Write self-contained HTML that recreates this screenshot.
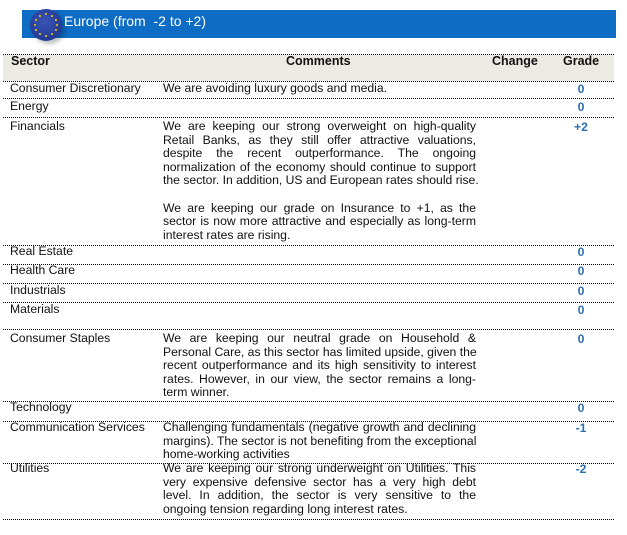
<!DOCTYPE html>
<html><head><meta charset="utf-8"><style>
body{margin:0;width:627px;height:535px;background:#fff;position:relative;overflow:hidden;font-family:"Liberation Sans",Arial,sans-serif;font-size:12.2px;color:#111}
.banner{position:absolute;left:22px;top:10px;width:594px;height:28px;background:#0d6cc4}
.flag{position:absolute;left:30px;top:9px;width:32px;height:32px;border-radius:50%;background:radial-gradient(circle at 45% 40%,#3a55b5,#1c2f86);box-shadow:3px 3px 4px rgba(0,0,0,.25)}
.star{position:absolute;width:2px;height:2px;background:#f5d000;border-radius:50%}
.title{position:absolute;left:64px;top:13px;color:#fff;font-size:14px;}
.hdr{position:absolute;left:3px;top:55px;width:611px;height:26px;background:#ecebe3}
.sep{position:absolute;left:3px;width:611px;border-top:1px dotted #000}
.t{position:absolute;white-space:nowrap;line-height:13.6px}
.h{font-weight:bold;font-size:12.5px}
.g{position:absolute;width:30px;text-align:center;left:566px;color:#2e6fb0;font-weight:bold}
.c{position:absolute;left:163px;width:313px;line-height:13.6px}
.c div{text-align:justify;text-align-last:justify;white-space:nowrap}
.c div.l{text-align-last:left}
</style></head><body>
<div class="banner"></div><div class="flag">
<div class="star" style="left:15px;top:4px"></div><div class="star" style="left:21px;top:6px"></div><div class="star" style="left:25px;top:10px"></div><div class="star" style="left:26px;top:15px"></div><div class="star" style="left:25px;top:20px"></div><div class="star" style="left:21px;top:24px"></div><div class="star" style="left:15px;top:26px"></div><div class="star" style="left:9px;top:24px"></div><div class="star" style="left:5px;top:20px"></div><div class="star" style="left:4px;top:15px"></div><div class="star" style="left:5px;top:10px"></div><div class="star" style="left:9px;top:6px"></div>
</div>
<div class="title">Europe (from&nbsp; -2 to +2)</div>
<div class="sep" style="top:54px"></div>
<div class="hdr"></div>
<div class="t h" style="left:11px;top:55px">Sector</div>
<div class="t h" style="left:286px;top:55px">Comments</div>
<div class="t h" style="left:492px;top:55px">Change</div>
<div class="t h" style="left:563px;top:55px">Grade</div>
<div class="sep" style="top:81px"></div>
<div class="sep" style="top:98px"></div>
<div class="sep" style="top:117px"></div>
<div class="sep" style="top:245px"></div>
<div class="sep" style="top:264px"></div>
<div class="sep" style="top:283px"></div>
<div class="sep" style="top:302px"></div>
<div class="sep" style="top:329px"></div>
<div class="sep" style="top:401px"></div>
<div class="sep" style="top:421px"></div>
<div class="sep" style="top:463px"></div>
<div class="sep" style="top:519px"></div>

<div class="t" style="left:10px;top:82px">Consumer Discretionary</div>
<div class="t" style="left:163px;top:82px">We are avoiding luxury goods and media.</div>
<div class="g" style="top:82px">0</div>
<div class="t" style="left:10px;top:100px">Energy</div>
<div class="g" style="top:100px">0</div>
<div class="t" style="left:10px;top:120px">Financials</div>
<div class="g" style="top:120px">+2</div>
<div class="c" style="top:120px">
<div>We are keeping our strong overweight on high-quality</div>
<div>Retail Banks, as they still offer attractive valuations,</div>
<div>despite the recent outperformance. The ongoing</div>
<div>normalization of the economy should continue to support</div>
<div class="l">the sector. In addition, US and European rates should rise.</div>
<div>&nbsp;</div>
<div>We are keeping our grade on Insurance to +1, as the</div>
<div>sector is now more attractive and especially as long-term</div>
<div class="l">interest rates are rising.</div>
</div>
<div class="t" style="left:10px;top:245px">Real Estate</div><div class="g" style="top:245px">0</div>
<div class="t" style="left:10px;top:264px">Health Care</div><div class="g" style="top:264px">0</div>
<div class="t" style="left:10px;top:284px">Industrials</div><div class="g" style="top:284px">0</div>
<div class="t" style="left:10px;top:303px">Materials</div><div class="g" style="top:303px">0</div>
<div class="t" style="left:10px;top:332px">Consumer Staples</div><div class="g" style="top:332px">0</div>
<div class="c" style="top:332px">
<div>We are keeping our neutral grade on Household &amp;</div>
<div>Personal Care, as this sector has limited upside, given the</div>
<div>recent outperformance and its high sensitivity to interest</div>
<div>rates. However, in our view, the sector remains a long-</div>
<div class="l">term winner.</div>
</div>
<div class="t" style="left:10px;top:401px">Technology</div><div class="g" style="top:401px">0</div>
<div class="t" style="left:10px;top:421px">Communication Services</div><div class="g" style="top:421px">-1</div>
<div class="c" style="top:421px">
<div>Challenging fundamentals (negative growth and declining</div>
<div>margins). The sector is not benefiting from the exceptional</div>
<div class="l">home-working activities</div>
</div>
<div class="t" style="left:10px;top:462px">Utilities</div><div class="g" style="top:462px">-2</div>
<div class="c" style="top:462px">
<div>We are keeping our strong underweight on Utilities. This</div>
<div>very expensive defensive sector has a very high debt</div>
<div>level. In addition, the sector is very sensitive to the</div>
<div class="l">ongoing tension regarding long interest rates.</div>
</div>
</body></html>
